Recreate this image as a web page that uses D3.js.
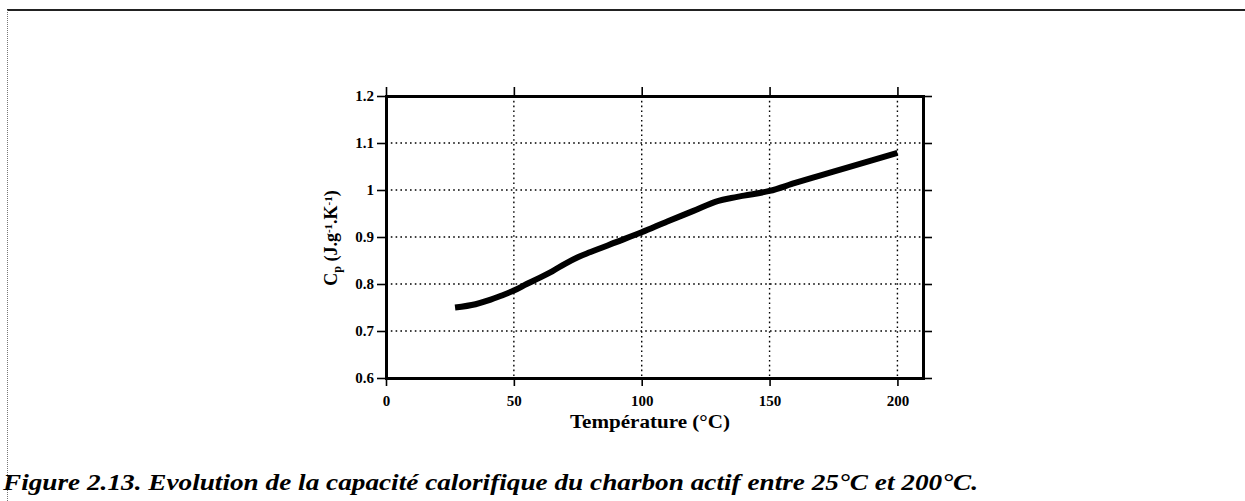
<!DOCTYPE html>
<html>
<head>
<meta charset="utf-8">
<script src="https://cdn.jsdelivr.net/npm/d3@7"></script>
<style>
  body { margin: 0; background: #fff; }
  svg { display: block; }
  .tick text { font-family: "Liberation Serif", "Times New Roman", serif; font-weight: bold; font-size: 15px; fill: #000; }
  .domain { stroke: #000; stroke-width: 3; }
  .tick line { stroke: #000; stroke-width: 1.6; }
  .grid line { stroke: #000; stroke-width: 1.4; stroke-dasharray: 1.6,3.2; }
</style>
</head>
<body>
<div id="chart"></div>
<script>
"use strict";

// temperature (°C) and heat capacity Cp (J/g/K)
var temps = [27, 35, 40, 45, 50, 55, 60, 65, 70, 75, 80, 90, 100, 110, 120, 130, 135, 140, 150, 160, 170, 180, 190, 200];
var cps   = [0.750, 0.757, 0.765, 0.775, 0.786, 0.800, 0.813, 0.827, 0.843, 0.857, 0.868, 0.889, 0.910, 0.933, 0.955, 0.977, 0.983, 0.988, 0.998, 1.015, 1.031, 1.047, 1.063, 1.079];

var xTicks = [0, 50, 100, 150, 200];
var yTicks = [0.6, 0.7, 0.8, 0.9, 1.0, 1.1, 1.2];

var caption = "Figure 2.13. Evolution de la capacité calorifique du charbon actif entre 25°C et 200°C.";

var W = 1245, H = 501;

var svg = d3.select("#chart")
            .append("svg")
            .attr("width", W)
            .attr("height", H);

// page frame (scan border)
svg.append("line")
   .attr("x1", 7).attr("x2", W).attr("y1", 10).attr("y2", 10)
   .attr("stroke", "#222").attr("stroke-width", 2);
svg.append("line")
   .attr("x1", 7.5).attr("x2", 7.5).attr("y1", 10).attr("y2", H)
   .attr("stroke", "#777").attr("stroke-width", 1)
   .attr("stroke-dasharray", "1,1");

// plot box
var pLeft = 386, pRight = 923, pTop = 96, pBottom = 378;

var x = d3.scaleLinear()
          .domain([0, 210])
          .range([pLeft, pRight]);

var y = d3.scaleLinear()
          .domain([0.6, 1.2])
          .range([pBottom, pTop]);

var fmt = function(d){ return String(+d.toFixed(1)); };

// grid
var grid = svg.append("g").attr("class", "grid");
grid.selectAll(".vg")
    .data(xTicks.slice(1))
    .enter()
    .append("line")
    .attr("x1", function(d){ return x(d); })
    .attr("x2", function(d){ return x(d); })
    .attr("y1", pTop)
    .attr("y2", pBottom);
grid.selectAll(".hg")
    .data(yTicks.slice(1, -1))
    .enter()
    .append("line")
    .attr("x1", pLeft)
    .attr("x2", pRight)
    .attr("y1", function(d){ return y(d); })
    .attr("y2", function(d){ return y(d); });

// axes
svg.append("g")
   .attr("transform", "translate(0," + pBottom + ")")
   .call(d3.axisBottom(x).tickValues(xTicks).tickSize(8).tickSizeOuter(0).tickPadding(9).tickFormat(fmt));

svg.append("g")
   .attr("transform", "translate(0," + pTop + ")")
   .call(d3.axisTop(x).tickValues(xTicks).tickSize(9).tickSizeOuter(0).tickFormat(""));

svg.append("g")
   .attr("transform", "translate(" + pLeft + ",0)")
   .call(d3.axisLeft(y).tickValues(yTicks).tickSize(9).tickSizeOuter(0).tickPadding(3).tickFormat(fmt));

svg.append("g")
   .attr("transform", "translate(" + pRight + ",0)")
   .call(d3.axisRight(y).tickValues(yTicks).tickSize(9).tickSizeOuter(0).tickFormat(""));

svg.selectAll(".domain").attr("stroke-linecap", "square");

// curve
var line = d3.line()
             .x(function(d, i){ return x(temps[i]); })
             .y(function(d){ return y(d); })
             .curve(d3.curveMonotoneX);

svg.append("path")
   .datum(cps)
   .attr("fill", "none")
   .attr("stroke", "#000")
   .attr("stroke-width", 6)
   .attr("d", line);

// axis titles
svg.append("text")
   .attr("x", 570)
   .attr("y", 428)
   .attr("textLength", 160)
   .attr("lengthAdjust", "spacingAndGlyphs")
   .style("font-family", "'Liberation Serif', serif")
   .style("font-weight", "bold")
   .style("font-size", "18px")
   .text("Température (°C)");

var ylab = svg.append("text")
   .attr("transform", "translate(337," + 238 + ") rotate(-90)")
   .attr("text-anchor", "middle")
   .style("font-family", "'Liberation Serif', serif")
   .style("font-weight", "bold")
   .style("font-size", "18px");
ylab.append("tspan").text("C");
ylab.append("tspan").attr("baseline-shift", "-30%").style("font-size", "12px").text("p");
ylab.append("tspan").text(" (J.g");
ylab.append("tspan").attr("baseline-shift", "45%").style("font-size", "11px").text("-1");
ylab.append("tspan").text(".K");
ylab.append("tspan").attr("baseline-shift", "45%").style("font-size", "11px").text("-1");
ylab.append("tspan").text(")");

// caption
svg.append("text")
   .attr("x", 3)
   .attr("y", 490)
   .attr("textLength", 975)
   .attr("lengthAdjust", "spacingAndGlyphs")
   .style("font-family", "'Liberation Serif', serif")
   .style("font-weight", "bold")
   .style("font-style", "italic")
   .style("font-size", "24px")
   .text(caption);
</script>
</body>
</html>
